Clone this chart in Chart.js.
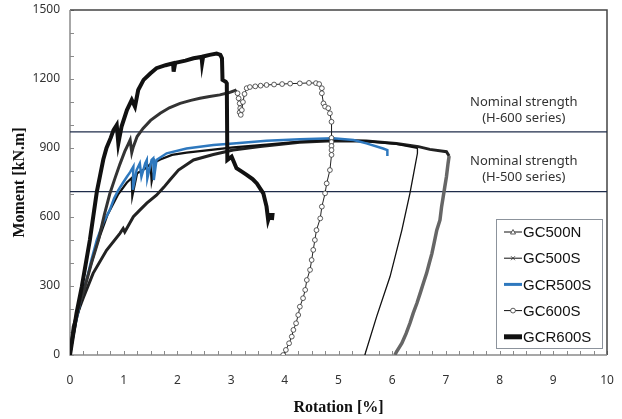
<!DOCTYPE html>
<html>
<head>
<meta charset="utf-8">
<script src="https://cdn.jsdelivr.net/npm/chart.js@4.4.0/dist/chart.umd.min.js"></script>
<style>
  html, body { margin: 0; padding: 0; background: #fff; }
</style>
</head>
<body>
<canvas id="chart_1" width="622" height="419"></canvas>
<script>
// tick labels
var rotationTicks = [0, 1, 2, 3, 4, 5, 6, 7, 8, 9, 10];
var momentTicks = [0, 300, 600, 900, 1200, 1500];

// nominal strength lines
var nominalValues = [970, 710];
var nominalLabels = [["Nominal strength", "(H-600 series)"], ["Nominal strength", "(H-500 series)"]];

// GC500N
var gc500nX = [0, 0.03, 0.06, 0.12, 0.25, 0.43, 0.68, 0.93, 0.99, 1.02, 1.18, 1.30, 1.43, 1.61, 1.75,
  1.86, 2.02, 2.30, 2.67, 3.04, 3.54, 4.28, 4.90, 5.52, 6.08, 6.49, 6.70, 7.01, 7.06,
  7.04, 7.01, 6.98, 6.95, 6.92, 6.89, 6.83, 6.78, 6.74, 6.69, 6.64, 6.58, 6.52, 6.46, 6.39,
  6.33, 6.26, 6.18, 6.08, 6.05];
var gc500nY = [0, 65, 123, 170, 250, 355, 455, 529, 550, 535, 601, 630, 660, 695, 730,
  761, 804, 848, 872, 891, 906, 925, 932, 930, 920, 906, 894, 884, 865,
  833, 775, 732, 688, 645, 587, 543, 486, 442, 399, 355, 312, 268, 225, 181,
  138, 94, 51, 14, 0];

// GC500S
var gc500sX = [0, 0.05, 0.12, 0.30, 0.50, 0.70, 0.90, 1.06, 1.15, 1.16, 1.25, 1.40, 1.50, 1.52, 1.60,
  1.68, 1.90, 2.17, 2.67, 3.04, 3.66, 4.28, 4.90, 5.52, 6.08, 6.47, 6.47, 6.40, 6.33, 6.18,
  5.96, 5.71, 5.49];
var gc500sY = [0, 65, 150, 320, 480, 610, 700, 750, 770, 690, 790, 810, 830, 754, 840,
  850, 870, 880, 893, 903, 915, 928, 935, 930, 918, 900, 877, 790, 703, 543,
  341, 167, 0];

// GCR500S
var gcr500sX = [0, 0.05, 0.09, 0.20, 0.31, 0.40, 0.50, 0.62, 0.74, 0.82, 0.90, 0.99, 1.06, 1.12, 1.18,
  1.17, 1.24, 1.30, 1.33, 1.40, 1.43, 1.44, 1.52, 1.55, 1.56, 1.61, 1.80, 2.17, 2.67, 3.04,
  3.66, 4.28, 4.90, 5.28, 5.52, 5.83, 5.91, 5.91];
var gcr500sY = [0, 70, 123, 240, 326, 415, 500, 575, 630, 680, 717, 750, 775, 795, 819,
  718, 804, 833, 775, 833, 848, 768, 848, 855, 761, 848, 877, 898, 913, 920,
  932, 938, 942, 935, 920, 898, 891, 865];

// GC600S (loading branch, then dip / plateau / unloading)
var gc600sLoadX = [0, 0.03, 0.08, 0.15, 0.28, 0.40, 0.53, 0.64, 0.74, 0.84, 0.93, 1.02, 1.08, 1.12, 1.15,
  1.18, 1.25, 1.36, 1.50, 1.68, 1.85, 2.05, 2.25, 2.42, 2.60, 2.79, 2.95, 3.10];
var gc600sLoadY = [0, 55, 120, 200, 297, 400, 500, 610, 700, 770, 830, 885, 915, 935, 880,
  906, 950, 985, 1020, 1051, 1075, 1094, 1107, 1116, 1124, 1131, 1140, 1152];
var gc600sRestX = [3.12, 3.14, 3.16, 3.17, 3.16, 3.18, 3.20, 3.22, 3.25, 3.29,
  3.35, 3.45, 3.55, 3.66, 3.80, 3.95, 4.10, 4.28, 4.45, 4.58, 4.64,
  4.69, 4.69, 4.72, 4.75, 4.81, 4.84, 4.87, 4.87, 4.87, 4.87, 4.87, 4.87, 4.84, 4.78, 4.75,
  4.69, 4.66, 4.59, 4.56, 4.53, 4.50, 4.47, 4.41, 4.38, 4.34, 4.28, 4.25, 4.21, 4.16, 4.13,
  4.08, 4.02, 3.97];
var gc600sRestY = [1138, 1116, 1094, 1073, 1055, 1044, 1065, 1100, 1135, 1160,
  1165, 1168, 1171, 1174, 1176, 1178, 1180, 1181, 1183, 1182, 1178,
  1160, 1138, 1094, 1080, 1073, 1051, 1014, 944, 926, 909, 891, 870, 804, 746, 703,
  645, 594, 543, 500, 457, 413, 370, 326, 283, 247, 210, 174, 138, 109, 80,
  51, 22, 0];

// GCR600S
var gcr600sX = [0, 0.05, 0.12, 0.22, 0.37, 0.50, 0.56, 0.62, 0.68, 0.76, 0.81, 0.87, 0.90, 0.96, 1.06,
  1.15, 1.21, 1.27, 1.37, 1.50, 1.61, 1.78, 1.92, 1.93, 1.96, 2.15, 2.30, 2.45, 2.46, 2.48,
  2.60, 2.73, 2.80, 2.83, 2.84, 2.90, 2.92, 2.93, 3.01, 3.05, 3.10, 3.20, 3.29, 3.40, 3.48,
  3.60, 3.66, 3.69, 3.72, 3.77, 3.76];
var gcr600sY = [0, 75, 180, 297, 500, 710, 780, 850, 900, 945, 978, 1000, 920, 993, 1065,
  1109, 1080, 1152, 1196, 1225, 1247, 1260, 1268, 1232, 1270, 1280, 1290, 1296, 1270, 1298,
  1305, 1311, 1305, 1290, 1196, 1188, 1181, 848, 862, 840, 812, 797, 783, 765, 746,
  703, 645, 587, 609, 609, 587];

function toPoints(xs, ys) {
  return xs.map(function (x, i) { return { x: x, y: ys[i] }; });
}

// index where the specimen starts unloading (largest rotation)
function unloadStart(xs) {
  return xs.indexOf(Math.max.apply(null, xs));
}

var gc500nUnload = unloadStart(gc500nX);
var gc500sUnload = unloadStart(gc500sX);
var gc600sLoadLen = gc600sLoadX.length;

var blue = '#2e78be';

var datasets = [
  {
    label: 'GC500N', legendMarker: 'triangle', order: 5,
    data: toPoints(gc500nX, gc500nY),
    borderColor: '#222', borderWidth: 3, pointRadius: 0,
    segment: {
      borderColor: function (ctx) { return ctx.p0DataIndex >= gc500nUnload ? '#666' : '#222'; },
      borderWidth: function (ctx) { return ctx.p0DataIndex >= gc500nUnload ? 3.5 : 3; }
    }
  },
  {
    label: 'GC500S', legendMarker: 'cross', order: 4,
    data: toPoints(gc500sX, gc500sY),
    borderColor: '#111', borderWidth: 2.2, pointRadius: 0,
    segment: {
      borderWidth: function (ctx) { return ctx.p0DataIndex >= gc500sUnload ? 1.3 : 2.2; }
    }
  },
  {
    label: 'GCR500S', legendMarker: 'thick', order: 3,
    data: toPoints(gcr500sX, gcr500sY),
    borderColor: blue, borderWidth: 2.5, pointRadius: 0
  },
  {
    label: 'GC600S', legendMarker: 'circle', order: 2,
    data: toPoints(gc600sLoadX, gc600sLoadY).concat(toPoints(gc600sRestX, gc600sRestY)),
    borderColor: '#222', borderWidth: 1,
    pointRadius: function (ctx) { return ctx.dataIndex >= gc600sLoadLen ? 2.4 : 0; },
    pointStyle: 'circle',
    pointBackgroundColor: '#fff', pointBorderColor: '#333', pointBorderWidth: 0.8,
    segment: {
      borderWidth: function (ctx) { return ctx.p0DataIndex < gc600sLoadLen - 1 ? 3 : 1; },
      borderColor: function (ctx) { return ctx.p0DataIndex < gc600sLoadLen - 1 ? '#333' : '#222'; }
    }
  },
  {
    label: 'GCR600S', legendMarker: 'heavy', order: 1,
    data: toPoints(gcr600sX, gcr600sY),
    borderColor: '#111', borderWidth: 4, pointRadius: 0
  }
];

nominalValues.forEach(function (v) {
  datasets.push({
    label: '', order: 6,
    data: [{ x: rotationTicks[0], y: v }, { x: rotationTicks[rotationTicks.length - 1], y: v }],
    borderColor: '#1f2c4a', borderWidth: 1.3, pointRadius: 0
  });
});

// frame and inward tick marks
var framePlugin = {
  id: 'frame',
  beforeDatasetsDraw: function (chart) {
    var ctx = chart.ctx, a = chart.chartArea;
    var xs = chart.scales.x, ys = chart.scales.y;
    ctx.save();
    ctx.lineWidth = 1;
    ctx.strokeStyle = '#8a8a8a';
    ctx.beginPath();
    for (var v = 0; v <= 10.001; v += 0.25) {
      var px = Math.round(xs.getPixelForValue(v)) + 0.5;
      ctx.moveTo(px, a.bottom);
      ctx.lineTo(px, a.bottom - 4);
    }
    for (var m = 0; m <= 1500; m += 100) {
      var py = Math.round(ys.getPixelForValue(m)) + 0.5;
      ctx.moveTo(a.left, py);
      ctx.lineTo(a.left + 4, py);
    }
    ctx.stroke();
    ctx.lineWidth = 1.5;
    ctx.strokeStyle = '#444';
    ctx.beginPath();
    ctx.moveTo(a.left, a.top);
    ctx.lineTo(a.right, a.top);
    ctx.lineTo(a.right, a.bottom);
    ctx.stroke();
    ctx.strokeStyle = '#8a8a8a';
    ctx.beginPath();
    ctx.moveTo(a.left, a.top);
    ctx.lineTo(a.left, a.bottom);
    ctx.lineTo(a.right, a.bottom);
    ctx.stroke();
    ctx.restore();
  }
};

// nominal strength captions
var captionPlugin = {
  id: 'captions',
  afterDatasetsDraw: function (chart) {
    var ctx = chart.ctx;
    var xs = chart.scales.x, ys = chart.scales.y;
    var cx = xs.getPixelForValue(8.45);
    ctx.save();
    ctx.font = '13px "Noto Sans"';
    ctx.fillStyle = '#333';
    ctx.textAlign = 'center';
    ctx.textBaseline = 'middle';
    nominalLabels.forEach(function (lines, i) {
      var base = ys.getPixelForValue(nominalValues[i]);
      ctx.fillText(lines[0], cx, base - 30);
      ctx.fillText(lines[1], cx, base - 14);
    });
    ctx.restore();
  }
};

// legend box inside the plot
var legendPlugin = {
  id: 'boxLegend',
  afterDraw: function (chart) {
    var ctx = chart.ctx, a = chart.chartArea;
    var left = a.right - 111, top = a.top + 209, w = 106, h = 129;
    ctx.save();
    ctx.fillStyle = '#fff';
    ctx.fillRect(left, top, w, h);
    ctx.strokeStyle = '#8c939c';
    ctx.lineWidth = 1;
    ctx.strokeRect(left + 0.5, top + 0.5, w, h);
    ctx.font = '15px "Liberation Sans"';
    ctx.textBaseline = 'middle';
    var row = 0;
    chart.data.datasets.forEach(function (ds) {
      if (!ds.label) return;
      var y = top + 13 + row * 26.2;
      var x0 = left + 8, x1 = left + 26, mx = (x0 + x1) / 2;
      ctx.strokeStyle = ds.legendMarker === 'thick' ? blue : '#111';
      ctx.lineWidth = ds.legendMarker === 'thick' ? 3 : (ds.legendMarker === 'heavy' ? 5 : 1);
      ctx.beginPath();
      ctx.moveTo(x0, y);
      ctx.lineTo(x1, y);
      ctx.stroke();
      ctx.lineWidth = 0.8;
      ctx.strokeStyle = '#333';
      ctx.fillStyle = '#fff';
      if (ds.legendMarker === 'triangle') {
        ctx.beginPath();
        ctx.moveTo(mx, y - 2.5);
        ctx.lineTo(mx + 2.5, y + 2);
        ctx.lineTo(mx - 2.5, y + 2);
        ctx.closePath();
        ctx.fill();
        ctx.stroke();
      } else if (ds.legendMarker === 'cross') {
        ctx.beginPath();
        ctx.moveTo(mx - 2, y - 2); ctx.lineTo(mx + 2, y + 2);
        ctx.moveTo(mx + 2, y - 2); ctx.lineTo(mx - 2, y + 2);
        ctx.stroke();
      } else if (ds.legendMarker === 'circle') {
        ctx.beginPath();
        ctx.arc(mx, y, 2.4, 0, Math.PI * 2);
        ctx.fill();
        ctx.stroke();
      }
      ctx.fillStyle = '#111';
      ctx.fillText(ds.label, x1 + 1, y + 1);
      row++;
    });
    ctx.restore();
  }
};

var ctx_1 = document.getElementById('chart_1').getContext('2d');
var chart_1 = new Chart(ctx_1, {
  type: 'scatter',
  data: { datasets: datasets },
  options: {
    responsive: false,
    animation: false,
    showLine: true,
    elements: { line: { tension: 0 } },
    layout: { padding: { top: 10, right: 15, left: 0, bottom: 0 } },
    plugins: {
      legend: { display: false },
      tooltip: { enabled: false }
    },
    scales: {
      x: {
        type: 'linear', min: 0, max: 10,
        afterBuildTicks: function (s) { s.ticks = rotationTicks.map(function (v) { return { value: v }; }); },
        afterFit: function (s) { s.height = 64; s.paddingLeft = 0; s.paddingRight = 0; },
        grid: { display: false, drawTicks: false },
        border: { display: false },
        ticks: {
          color: '#333', font: { family: 'Noto Sans', size: 12 }, padding: 18, maxRotation: 0,
          callback: function (v) { return String(v); }
        },
        title: {
          display: true, text: 'Rotation [%]', color: '#111',
          font: { family: 'Liberation Serif', size: 16, weight: 'bold' },
          padding: { top: 0, bottom: 2 }
        }
      },
      y: {
        type: 'linear', min: 0, max: 1500,
        afterBuildTicks: function (s) { s.ticks = momentTicks.map(function (v) { return { value: v }; }); },
        afterFit: function (s) { s.width = 70; s.paddingTop = 0; s.paddingBottom = 0; },
        grid: { display: false, drawTicks: false },
        border: { display: false },
        ticks: {
          color: '#333', font: { family: 'Noto Sans', size: 12 }, padding: 10,
          callback: function (v) { return String(v); }
        },
        title: {
          display: true, text: 'Moment [kN.m]', color: '#111',
          font: { family: 'Liberation Serif', size: 16, weight: 'bold' },
          padding: { top: 10, bottom: 0 }
        }
      }
    }
  },
  plugins: [framePlugin, captionPlugin, legendPlugin]
});
</script>
</body>
</html>
